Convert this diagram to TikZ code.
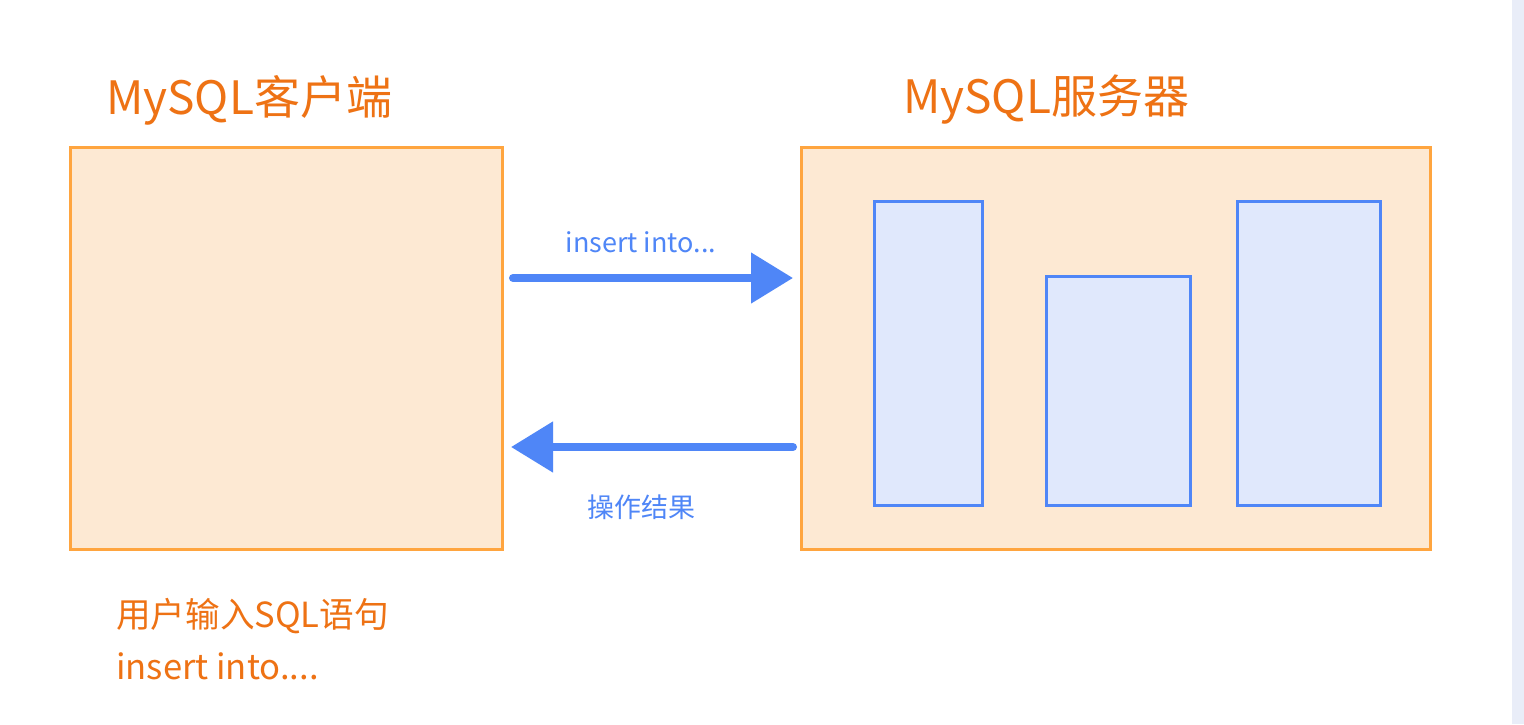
\documentclass[tikz,border=0pt]{standalone}
\usepackage{fontspec}
\setmainfont{Noto Sans CJK SC}
\usetikzlibrary{arrows.meta}
\definecolor{boxfill}{HTML}{FDE9D3}
\definecolor{boxline}{HTML}{FFA53F}
\definecolor{titlec}{HTML}{EE7214}
\definecolor{bluec}{HTML}{4F86F7}
\definecolor{bluefill}{HTML}{E0E8FC}
\definecolor{stripc}{HTML}{E9EDF8}
\tikzset{
  obox/.style={draw=boxline, fill=boxfill, line width=3pt, minimum width=#1, inner sep=0pt, outer sep=0pt},
  bbox/.style={draw=bluec, fill=bluefill, line width=3pt, inner sep=0pt, outer sep=0pt},
  titletext/.style={text=titlec, font=\fontsize{46}{54}\selectfont, inner sep=0pt, anchor=west},
  bottomtext/.style={text=titlec, font=\fontsize{34.6}{50}\selectfont, inner sep=0pt, anchor=west},
  lbl/.style={text=bluec, font=\fontsize{27}{30}\selectfont, inner sep=0pt},
  arr/.style={draw=bluec, line width=8pt, line cap=round, -{Triangle[length=42pt 0 0, width=49pt 0 0]}}
}
\begin{document}
\begin{tikzpicture}[x=1pt,y=-1pt]
\useasboundingbox (0,0) rectangle (1524,724);
\fill[white] (0,0) rectangle (1524,724);
\fill[stripc] (1512,0) rectangle (1524,724);
% boxes
\node[obox=432pt, minimum height=402pt] (lbox) at (286,348) {};
\node[obox=629pt, minimum height=402pt] (rbox) at (1115.5,348) {};
\node[bbox, minimum width=108pt, minimum height=304pt] (c1) at (928,353) {};
\node[bbox, minimum width=144pt, minimum height=229pt] (c2) at (1118,390.5) {};
\node[bbox, minimum width=143pt, minimum height=304pt] (c3) at (1308.5,353) {};
% titles
\node[titletext] (t1) at (106,100) {MySQL客户端};
\node[titletext] (t2) at (903,100) {MySQL服务器};
% arrows
\draw[arr, shorten <=11pt, shorten >=8pt] (lbox.east |- 0,278) -- (rbox.west |- 0,278);
\draw[arr, shorten <=8pt, shorten >=9pt] (rbox.west |- 0,447) -- (lbox.east |- 0,447);
\node[lbl] (l1) at (641,242) {insert into...};
\node[lbl] (l2) at (641,507) {操作结果};
% bottom text
\node[bottomtext] (b1) at (116,616) {用户输入SQL语句};
\node[bottomtext] (b2) at (116,666) {insert into....};
\end{tikzpicture}
\end{document}
